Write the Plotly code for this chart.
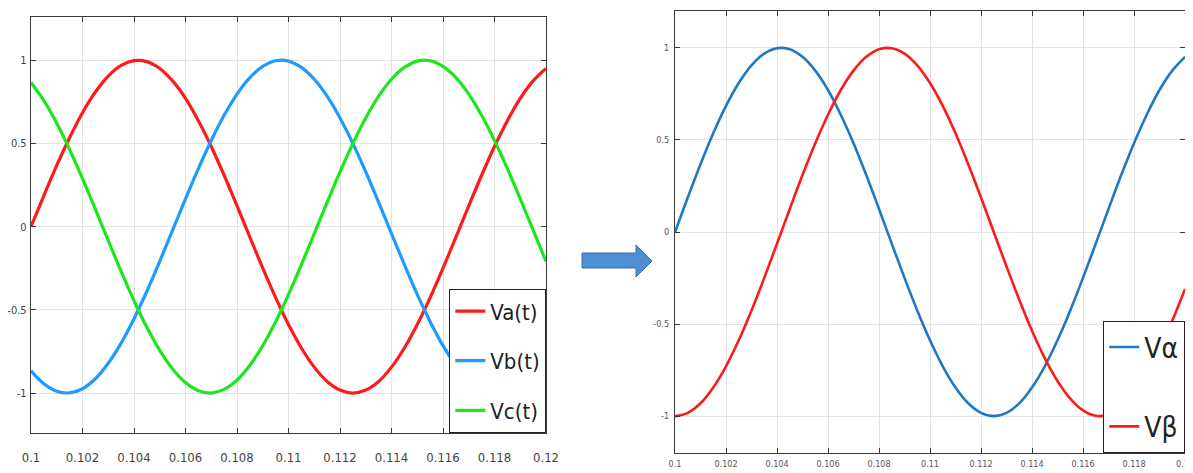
import plotly.graph_objects as go

# ---------------- data ----------------
t = [0.1000, 0.1005, 0.1010, 0.1015, 0.1020, 0.1025, 0.1030, 0.1035, 0.1040, 0.1045,
     0.1050, 0.1055, 0.1060, 0.1065, 0.1070, 0.1075, 0.1080, 0.1085, 0.1090, 0.1095,
     0.1100, 0.1105, 0.1110, 0.1115, 0.1120, 0.1125, 0.1130, 0.1135, 0.1140, 0.1145,
     0.1150, 0.1155, 0.1160, 0.1165, 0.1170, 0.1175, 0.1180, 0.1185, 0.1190, 0.1195,
     0.1200]

va = [0.000, 0.187, 0.368, 0.536, 0.685, 0.809, 0.905, 0.969, 0.998, 0.992,
      0.951, 0.876, 0.771, 0.637, 0.482, 0.309, 0.125, -0.063, -0.249, -0.426,
      -0.588, -0.729, -0.844, -0.930, -0.982, -1.000, -0.982, -0.930, -0.844, -0.729,
      -0.588, -0.426, -0.249, -0.063, 0.125, 0.309, 0.482, 0.637, 0.771, 0.876,
      0.951]
vb = [-0.866, -0.944, -0.989, -0.999, -0.974, -0.914, -0.821, -0.700, -0.553, -0.388,
      -0.208, -0.021, 0.167, 0.349, 0.518, 0.669, 0.797, 0.896, 0.963, 0.997,
      0.995, 0.957, 0.886, 0.784, 0.653, 0.500, 0.329, 0.146, -0.042, -0.228,
      -0.407, -0.571, -0.715, -0.833, -0.922, -0.978, -1.000, -0.986, -0.937, -0.855,
      -0.743]
vc = [0.866, 0.757, 0.621, 0.463, 0.289, 0.105, -0.084, -0.269, -0.445, -0.605,
      -0.743, -0.855, -0.937, -0.986, -1.000, -0.978, -0.922, -0.833, -0.715, -0.571,
      -0.407, -0.228, -0.042, 0.146, 0.329, 0.500, 0.653, 0.784, 0.886, 0.957,
      0.995, 0.997, 0.963, 0.896, 0.797, 0.669, 0.518, 0.349, 0.167, -0.021,
      -0.208]

v_alpha = [0.000, 0.187, 0.368, 0.536, 0.685, 0.809, 0.905, 0.969, 0.998, 0.992,
           0.951, 0.876, 0.771, 0.637, 0.482, 0.309, 0.125, -0.063, -0.249, -0.426,
           -0.588, -0.729, -0.844, -0.930, -0.982, -1.000, -0.982, -0.930, -0.844, -0.729,
           -0.588, -0.426, -0.249, -0.063, 0.125, 0.309, 0.482, 0.637, 0.771, 0.876,
           0.951]
v_beta = [-1.000, -0.982, -0.930, -0.844, -0.729, -0.588, -0.426, -0.249, -0.063, 0.125,
          0.309, 0.482, 0.637, 0.771, 0.876, 0.951, 0.992, 0.998, 0.969, 0.905,
          0.809, 0.685, 0.536, 0.368, 0.187, 0.000, -0.187, -0.368, -0.536, -0.685,
          -0.809, -0.905, -0.969, -0.998, -0.992, -0.951, -0.876, -0.771, -0.637, -0.482,
          -0.309]

x_tickvals = [0.100, 0.102, 0.104, 0.106, 0.108, 0.110, 0.112, 0.114, 0.116, 0.118, 0.120]
x_ticktext = ["0.1", "0.102", "0.104", "0.106", "0.108", "0.11", "0.112", "0.114", "0.116", "0.118", "0.12"]
y_tickvals = [-1, -0.5, 0, 0.5, 1]
y_ticktext = ["-1", "-0.5", "0", "0.5", "1"]

left_names = ["Va(t)", "Vb(t)", "Vc(t)"]
right_names = ["V\u03b1", "V\u03b2"]

# ---------------- figure ----------------
# the page body has an 8px margin, so the figure is drawn 8px in from the window corner
OFF = 8
WIN_W, WIN_H = 1193, 473
W, H = WIN_W - OFF, WIN_H - OFF

def px(x):
    return (x - OFF) / W

def py(y):
    return 1 - (y - OFF) / H

fig = go.Figure()

left_colors = ["#ff1a1a", "#1e9bff", "#1ee61e"]
for name, vals, col in zip(left_names, [va, vb, vc], left_colors):
    fig.add_trace(go.Scatter(x=t, y=vals, name=name, mode="lines",
                             line=dict(color=col, width=3.2, shape="spline"),
                             xaxis="x", yaxis="y", legend="legend",
                             legendgroup=name))

right_colors = ["#1f78c4", "#ff1a1a"]
for name, vals, col in zip(right_names, [v_alpha, v_beta], right_colors):
    fig.add_trace(go.Scatter(x=t, y=vals, name=name, mode="lines",
                             line=dict(color=col, width=2.6, shape="spline"),
                             xaxis="x2", yaxis="y2", legend="legend2",
                             legendgroup=name))

narrow = "Liberation Sans Narrow, DejaVu Sans Condensed, Roboto Condensed, Liberation Sans, sans-serif"
axis_common = dict(showgrid=True, gridcolor="#e3e3e3", gridwidth=1,
                   showline=True, linecolor="#3a3a3a", linewidth=1.3,
                   mirror="ticks", ticks="inside", tickcolor="#3a3a3a",
                   ticklen=5, zeroline=False, automargin=False,
                   ticklabeloverflow="allow")

fig.update_layout(
    width=W, height=H, autosize=False,
    margin=dict(l=0, r=0, t=0, b=0, pad=0),
    paper_bgcolor="white", plot_bgcolor="white",
    xaxis=dict(domain=[px(31), px(546)], range=[0.1, 0.12], anchor="y",
               tickvals=x_tickvals, ticktext=x_ticktext,
               tickfont=dict(family=narrow, size=13, color="#444444"),
               ticklabelstandoff=12, **axis_common),
    yaxis=dict(domain=[py(433), py(17)], range=[-1.24, 1.26], anchor="x",
               tickvals=y_tickvals, ticktext=y_ticktext,
               tickfont=dict(family=narrow, size=11, color="#444444"),
               ticklabelstandoff=1, **axis_common),
    xaxis2=dict(domain=[px(675), px(1185)], range=[0.1, 0.12], anchor="y2",
                tickvals=x_tickvals, ticktext=x_ticktext,
                tickfont=dict(family=narrow, size=9, color="#555555"),
                ticklabelstandoff=2, **axis_common),
    yaxis2=dict(domain=[py(453), py(11)], range=[-1.2, 1.2], anchor="x2",
                tickvals=y_tickvals, ticktext=y_ticktext,
                tickfont=dict(family=narrow, size=9, color="#555555"),
                ticklabelstandoff=3, **axis_common),
    legend=dict(x=px(546), xanchor="right", y=py(433), yanchor="bottom",
                bgcolor="white", bordercolor="#222222", borderwidth=1.3,
                font=dict(family=narrow, size=22, color="#222222"),
                tracegroupgap=18, itemwidth=30),
    legend2=dict(x=px(1185), xanchor="right", y=py(453), yanchor="bottom",
                 bgcolor="white", bordercolor="#222222", borderwidth=1.3,
                 font=dict(family=narrow, size=28, color="#222222"),
                 tracegroupgap=40, itemwidth=30),
    showlegend=True,
)

# decorative arrow between the two panels
pts = [(582, 253), (636, 253), (636, 245), (652, 261), (636, 277), (636, 268), (582, 268)]
path = "M " + " L ".join(f"{px(a):.5f},{py(b):.5f}" for a, b in pts) + " Z"
fig.add_shape(type="path", path=path, xref="paper", yref="paper",
              fillcolor="#4f8ed2", line=dict(color="#3b6fa8", width=1))

fig.write_html("out.html")
